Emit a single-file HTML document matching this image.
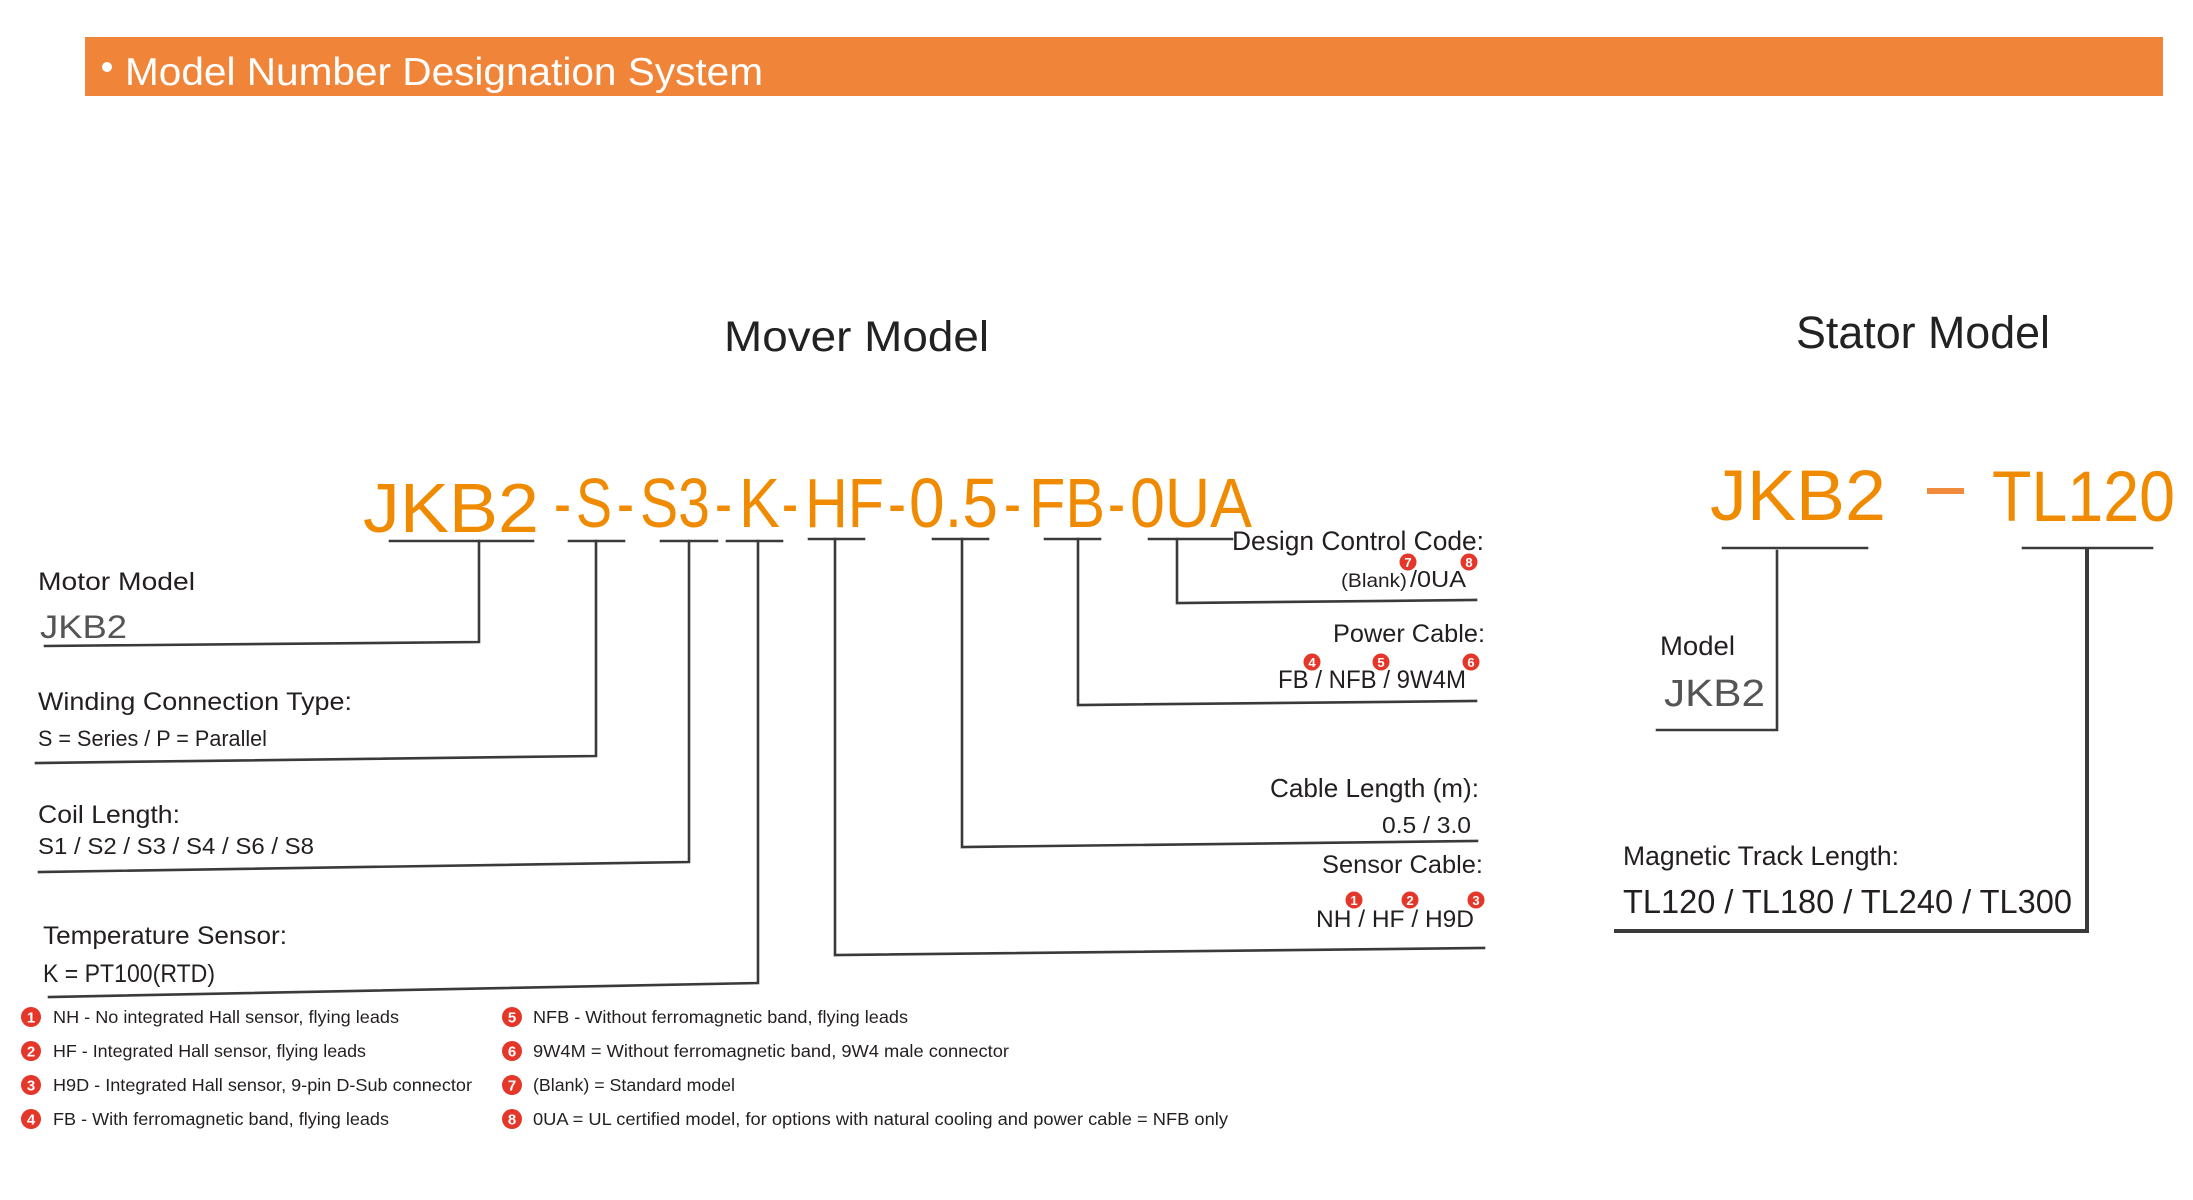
<!DOCTYPE html>
<html>
<head>
<meta charset="utf-8">
<style>
html,body{margin:0;padding:0;background:#fff;}
svg{display:block;}
text{font-family:"Liberation Sans",sans-serif;}
</style>
</head>
<body>
<svg width="2193" height="1200" viewBox="0 0 2193 1200" xmlns="http://www.w3.org/2000/svg">
<rect x="0" y="0" width="2193" height="1200" fill="#ffffff"/>

<!-- Header bar -->
<rect x="85" y="37" width="2078" height="59" fill="#f08539"/>
<circle cx="107" cy="67" r="5" fill="#ffffff"/>
<text x="125" y="85" font-size="39" fill="#ffffff" textLength="638" lengthAdjust="spacingAndGlyphs">Model Number Designation System</text>

<!-- Titles -->
<text x="724" y="351" font-size="43" fill="#222222" textLength="265" lengthAdjust="spacingAndGlyphs">Mover Model</text>
<text x="1796" y="348" font-size="45" fill="#222222" textLength="254" lengthAdjust="spacingAndGlyphs">Stator Model</text>

<!-- Mover code -->
<g fill="#f08a00" font-size="70">
<text x="363" y="532" textLength="176" lengthAdjust="spacingAndGlyphs">JKB2</text>
<text x="554" y="527" textLength="17" lengthAdjust="spacingAndGlyphs">-</text>
<text x="576" y="527" textLength="36" lengthAdjust="spacingAndGlyphs">S</text>
<text x="617" y="527" textLength="17" lengthAdjust="spacingAndGlyphs">-</text>
<text x="640" y="527" textLength="70" lengthAdjust="spacingAndGlyphs">S3</text>
<text x="715" y="527" textLength="17" lengthAdjust="spacingAndGlyphs">-</text>
<text x="739" y="527" textLength="41" lengthAdjust="spacingAndGlyphs">K</text>
<text x="782" y="527" textLength="16" lengthAdjust="spacingAndGlyphs">-</text>
<text x="805" y="527" textLength="79" lengthAdjust="spacingAndGlyphs">HF</text>
<text x="888" y="527" textLength="18" lengthAdjust="spacingAndGlyphs">-</text>
<text x="909" y="527" textLength="89" lengthAdjust="spacingAndGlyphs">0.5</text>
<text x="1004" y="527" textLength="17" lengthAdjust="spacingAndGlyphs">-</text>
<text x="1029" y="527" textLength="76" lengthAdjust="spacingAndGlyphs">FB</text>
<text x="1108" y="527" textLength="17" lengthAdjust="spacingAndGlyphs">-</text>
<text x="1130" y="527" textLength="122" lengthAdjust="spacingAndGlyphs">0UA</text>
</g>

<!-- Mover connector lines -->
<g stroke="#3a3a3a" stroke-width="2.6" fill="none" stroke-linecap="square">
<line x1="390" y1="541" x2="533" y2="541"/>
<polyline points="479,541 479,642 45,646"/>
<line x1="569" y1="541" x2="624" y2="541"/>
<polyline points="596,541 596,756 36,763"/>
<line x1="661" y1="541" x2="717" y2="541"/>
<polyline points="689,541 689,862 39,872"/>
<line x1="727" y1="541" x2="782" y2="541"/>
<polyline points="758,541 758,983 49,997"/>
<line x1="809" y1="539" x2="864" y2="539"/>
<polyline points="835,539 835,955 1484,948"/>
<line x1="933" y1="539" x2="988" y2="539"/>
<polyline points="962,539 962,847 1477,841"/>
<line x1="1045" y1="539" x2="1100" y2="539"/>
<polyline points="1078,539 1078,705 1476,701"/>
<line x1="1149" y1="539" x2="1232" y2="539"/>
<polyline points="1177,539 1177,603 1476,600"/>
</g>

<!-- Left labels -->
<g fill="#231f20">
<text x="38" y="590" font-size="25" textLength="157" lengthAdjust="spacingAndGlyphs">Motor Model</text>
<text x="40" y="638" font-size="32" fill="#555555" textLength="87" lengthAdjust="spacingAndGlyphs">JKB2</text>
<text x="38" y="710" font-size="25" textLength="314" lengthAdjust="spacingAndGlyphs">Winding Connection Type:</text>
<text x="38" y="746" font-size="22" textLength="229" lengthAdjust="spacingAndGlyphs">S = Series / P = Parallel</text>
<text x="38" y="823" font-size="25" textLength="142" lengthAdjust="spacingAndGlyphs">Coil Length:</text>
<text x="38" y="854" font-size="23" textLength="276" lengthAdjust="spacingAndGlyphs">S1 / S2 / S3 / S4 / S6 / S8</text>
<text x="43" y="944" font-size="25" textLength="244" lengthAdjust="spacingAndGlyphs">Temperature Sensor:</text>
<text x="43" y="982" font-size="25" textLength="172" lengthAdjust="spacingAndGlyphs">K = PT100(RTD)</text>
</g>

<!-- Right labels -->
<g fill="#231f20">
<text x="1232" y="550" font-size="26.5" textLength="252" lengthAdjust="spacingAndGlyphs">Design Control Code:</text>
<text x="1341" y="587" font-size="19.5" textLength="66" lengthAdjust="spacingAndGlyphs">(Blank)</text>
<text x="1410" y="587" font-size="23" textLength="56" lengthAdjust="spacingAndGlyphs">/0UA</text>
<text x="1333" y="642" font-size="25" textLength="152" lengthAdjust="spacingAndGlyphs">Power Cable:</text>
<text x="1278" y="688" font-size="25" textLength="188" lengthAdjust="spacingAndGlyphs">FB / NFB / 9W4M</text>
<text x="1270" y="797" font-size="26" textLength="209" lengthAdjust="spacingAndGlyphs">Cable Length (m):</text>
<text x="1382" y="833" font-size="23" textLength="89" lengthAdjust="spacingAndGlyphs">0.5 / 3.0</text>
<text x="1322" y="873" font-size="25" textLength="161" lengthAdjust="spacingAndGlyphs">Sensor Cable:</text>
<text x="1316" y="927" font-size="24" textLength="158" lengthAdjust="spacingAndGlyphs">NH / HF / H9D</text>
</g>

<!-- Superscript red markers -->
<g font-size="13" font-weight="bold" fill="#ffffff" text-anchor="middle">
<circle cx="1408" cy="562" r="8.5" fill="#e5362a"/><text x="1408" y="567">7</text>
<circle cx="1469" cy="562" r="8.5" fill="#e5362a"/><text x="1469" y="567">8</text>
<circle cx="1312" cy="662" r="8.5" fill="#e5362a"/><text x="1312" y="667">4</text>
<circle cx="1381" cy="662" r="8.5" fill="#e5362a"/><text x="1381" y="667">5</text>
<circle cx="1471" cy="662" r="8.5" fill="#e5362a"/><text x="1471" y="667">6</text>
<circle cx="1354" cy="900" r="8.5" fill="#e5362a"/><text x="1354" y="905">1</text>
<circle cx="1410" cy="900" r="8.5" fill="#e5362a"/><text x="1410" y="905">2</text>
<circle cx="1476" cy="900" r="8.5" fill="#e5362a"/><text x="1476" y="905">3</text>
</g>

<!-- Stator -->
<text x="1710" y="520" font-size="71" fill="#f08a00" textLength="176" lengthAdjust="spacingAndGlyphs">JKB2</text>
<rect x="1927" y="488" width="37" height="6" fill="#f08a3c"/>
<text x="1992" y="521" font-size="71" fill="#f08a00" textLength="183" lengthAdjust="spacingAndGlyphs">TL120</text>
<g stroke="#3a3a3a" fill="none" stroke-linecap="square">
<line x1="1723" y1="548" x2="1867" y2="548" stroke-width="2.6"/>
<line x1="2023" y1="548" x2="2152" y2="548" stroke-width="2.6"/>
<polyline points="1777,551 1777,730 1657,730" stroke-width="2.6"/>
<polyline points="2087,549 2087,931 1616,931" stroke-width="4"/>
</g>
<text x="1660" y="655" font-size="27" fill="#231f20" textLength="75" lengthAdjust="spacingAndGlyphs">Model</text>
<text x="1664" y="706" font-size="38" fill="#555555" textLength="101" lengthAdjust="spacingAndGlyphs">JKB2</text>
<text x="1623" y="865" font-size="27" fill="#231f20" textLength="276" lengthAdjust="spacingAndGlyphs">Magnetic Track Length:</text>
<text x="1623" y="913" font-size="33" fill="#231f20" textLength="449" lengthAdjust="spacingAndGlyphs">TL120 / TL180 / TL240 / TL300</text>

<!-- Footnotes -->
<g font-size="15" font-weight="bold" fill="#ffffff" text-anchor="middle">
<circle cx="31" cy="1017" r="10" fill="#e5362a"/><text x="31" y="1022.5">1</text>
<circle cx="31" cy="1051" r="10" fill="#e5362a"/><text x="31" y="1056.5">2</text>
<circle cx="31" cy="1085" r="10" fill="#e5362a"/><text x="31" y="1090.5">3</text>
<circle cx="31" cy="1119" r="10" fill="#e5362a"/><text x="31" y="1124.5">4</text>
<circle cx="512" cy="1017" r="10" fill="#e5362a"/><text x="512" y="1022.5">5</text>
<circle cx="512" cy="1051" r="10" fill="#e5362a"/><text x="512" y="1056.5">6</text>
<circle cx="512" cy="1085" r="10" fill="#e5362a"/><text x="512" y="1090.5">7</text>
<circle cx="512" cy="1119" r="10" fill="#e5362a"/><text x="512" y="1124.5">8</text>
</g>
<g font-size="17.5" fill="#231f20">
<text x="53" y="1023" textLength="346" lengthAdjust="spacingAndGlyphs">NH - No integrated Hall sensor, flying leads</text>
<text x="53" y="1057" textLength="313" lengthAdjust="spacingAndGlyphs">HF - Integrated Hall sensor, flying leads</text>
<text x="53" y="1091" textLength="419" lengthAdjust="spacingAndGlyphs">H9D - Integrated Hall sensor, 9-pin D-Sub connector</text>
<text x="53" y="1125" textLength="336" lengthAdjust="spacingAndGlyphs">FB - With ferromagnetic band, flying leads</text>
<text x="533" y="1023" textLength="375" lengthAdjust="spacingAndGlyphs">NFB - Without ferromagnetic band, flying leads</text>
<text x="533" y="1057" textLength="476" lengthAdjust="spacingAndGlyphs">9W4M = Without ferromagnetic band, 9W4 male connector</text>
<text x="533" y="1091" textLength="202" lengthAdjust="spacingAndGlyphs">(Blank) = Standard model</text>
<text x="533" y="1125" textLength="695" lengthAdjust="spacingAndGlyphs">0UA = UL certified model, for options with natural cooling and power cable = NFB only</text>
</g>
</svg>
</body>
</html>
